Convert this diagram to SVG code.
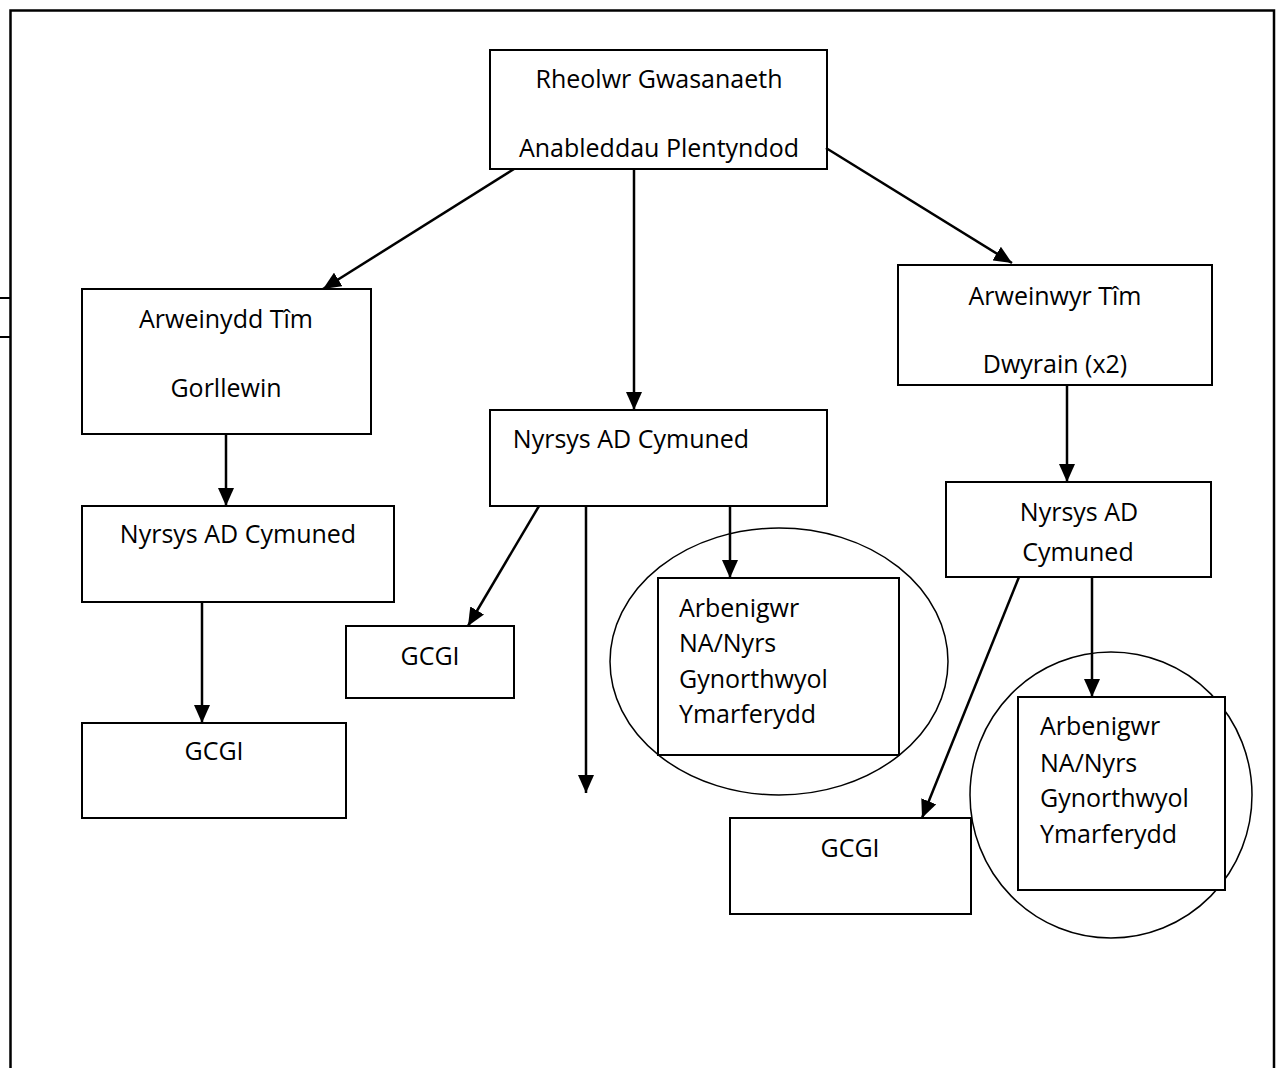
<svg xmlns="http://www.w3.org/2000/svg" width="1279" height="1068" viewBox="0 0 1279 1068">
<style>
.box{fill:#fff;stroke:#000;stroke-width:2}
.ell{fill:none;stroke:#000;stroke-width:1.5}
.t{font-family:"Open Sans","Liberation Sans",sans-serif;font-size:25px;fill:#000}
.c{text-anchor:middle}
.arr{stroke:#000;stroke-width:2.5;fill:none;marker-end:url(#ah)}
.frame{stroke:#000;stroke-width:2.5;fill:none}
</style>
<defs>
<marker id="ah" viewBox="0 0 18 16" refX="18" refY="8" markerWidth="18" markerHeight="16" markerUnits="userSpaceOnUse" orient="auto">
<path d="M0,0 L18,8 L0,16 z" fill="#000"/>
</marker>
</defs>
<rect width="1279" height="1068" fill="#fff"/>
<g id="frame">
<path class="frame" d="M10.5,1068 V10.5 H1274 V1068"/>
<path d="M0,298 H10 M0,337 H10" stroke="#000" stroke-width="2"/>
</g>
<g id="ellipses">
<ellipse class="ell" cx="779" cy="661.5" rx="169" ry="133.5"/>
<ellipse class="ell" cx="1111" cy="795" rx="141" ry="143"/>
</g>
<g id="n-top">
<rect class="box" x="490" y="50" width="337" height="119"/>
<text class="t c" x="659" y="88">Rheolwr Gwasanaeth</text>
<text class="t c" x="659" y="157">Anableddau Plentyndod</text>
</g>
<g id="n-west">
<rect class="box" x="82" y="289" width="289" height="145"/>
<text class="t c" x="226" y="328">Arweinydd Tîm</text>
<text class="t c" x="226" y="397">Gorllewin</text>
</g>
<g id="n-west-nurses">
<rect class="box" x="82" y="506" width="312" height="96"/>
<text class="t c" x="238" y="543">Nyrsys AD Cymuned</text>
</g>
<g id="n-west-gcgi">
<rect class="box" x="82" y="723" width="264" height="95"/>
<text class="t c" x="214" y="760">GCGI</text>
</g>
<g id="n-mid-nurses">
<rect class="box" x="490" y="410" width="337" height="96"/>
<text class="t c" x="631" y="448">Nyrsys AD Cymuned</text>
</g>
<g id="n-mid-gcgi">
<rect class="box" x="346" y="626" width="168" height="72"/>
<text class="t c" x="430" y="665">GCGI</text>
</g>
<g id="n-mid-spec">
<rect class="box" x="658" y="578" width="241" height="177"/>
<text class="t" x="679" y="617">Arbenigwr</text>
<text class="t" x="679" y="652">NA/Nyrs</text>
<text class="t" x="679" y="688">Gynorthwyol</text>
<text class="t" x="679" y="723">Ymarferydd</text>
</g>
<g id="n-east">
<rect class="box" x="898" y="265" width="314" height="120"/>
<text class="t c" x="1055" y="305">Arweinwyr Tîm</text>
<text class="t c" x="1055" y="373">Dwyrain (x2)</text>
</g>
<g id="n-east-nurses">
<rect class="box" x="946" y="482" width="265" height="95"/>
<text class="t c" x="1079" y="521">Nyrsys AD</text>
<text class="t c" x="1078" y="561">Cymuned</text>
</g>
<g id="n-east-gcgi">
<rect class="box" x="730" y="818" width="241" height="96"/>
<text class="t c" x="850" y="857">GCGI</text>
</g>
<g id="n-east-spec">
<rect class="box" x="1018" y="697" width="207" height="193"/>
<text class="t" x="1040" y="735">Arbenigwr</text>
<text class="t" x="1040" y="772">NA/Nyrs</text>
<text class="t" x="1040" y="807">Gynorthwyol</text>
<text class="t" x="1040" y="843">Ymarferydd</text>
</g>
<g id="connectors">
<line class="arr" x1="514" y1="169" x2="323" y2="289"/>
<line class="arr" x1="634" y1="169" x2="634" y2="410"/>
<line class="arr" x1="826" y1="148" x2="1012" y2="263"/>
<line class="arr" x1="226" y1="434" x2="226" y2="506"/>
<line class="arr" x1="202" y1="602" x2="202" y2="723"/>
<line class="arr" x1="539" y1="506" x2="468" y2="626"/>
<line class="arr" x1="586" y1="506" x2="586" y2="793"/>
<line class="arr" x1="730" y1="506" x2="730" y2="578"/>
<line class="arr" x1="1067" y1="385" x2="1067" y2="482"/>
<line class="arr" x1="1092" y1="577" x2="1092" y2="697"/>
<line class="arr" x1="1019" y1="577" x2="922" y2="818"/>
</g>
</svg>
